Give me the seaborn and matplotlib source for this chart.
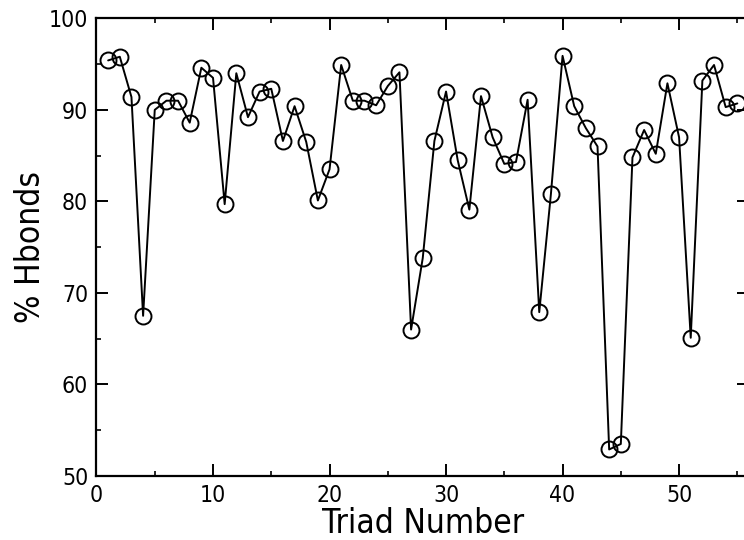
import matplotlib
matplotlib.use("Agg")
import numpy as np
import pandas as pd
import seaborn as sns
import matplotlib.pyplot as plt
from matplotlib.ticker import MultipleLocator

# % Hbonds for each triad
triad = list(range(1, 56))
hbonds = [95.4, 95.8, 91.4, 67.5, 90.0, 91.0, 91.0, 88.6, 94.6, 93.5,
          79.7, 94.0, 89.2, 92.0, 92.3, 86.6, 90.4, 86.5, 80.1, 83.5,
          94.9, 91.0, 91.0, 90.5, 92.6, 94.1, 66.0, 73.8, 86.6, 92.0,
          84.5, 79.1, 91.5, 87.0, 84.1, 84.3, 91.1, 67.9, 80.8, 95.9,
          90.4, 88.0, 86.0, 52.9, 53.5, 84.8, 87.8, 85.2, 92.9, 87.0,
          65.1, 93.2, 94.9, 90.3, 90.7]

df = pd.DataFrame({"Triad Number": triad, "% Hbonds": hbonds})

sns.set_style("ticks")
plt.rcParams['font.family'] = ['DejaVu Sans']
plt.rcParams['font.stretch'] = 'condensed'
plt.rcParams['text.color'] = 'black'
plt.rcParams['axes.labelcolor'] = 'black'

fig = plt.figure(figsize=(7.44, 5.4), dpi=100)
# right spine sits just past the image edge, as in the original
ax = fig.add_axes([0.1297, 0.1185, 0.877, 0.8476])

sns.lineplot(data=df, x="Triad Number", y="% Hbonds", ax=ax,
             color="black", linewidth=1.4, marker="o", markersize=11.5,
             markerfacecolor="none", markeredgecolor="black", markeredgewidth=1.4)

ax.set_xlim(0, 56)
ax.set_ylim(50, 100)
ax.xaxis.set_major_locator(MultipleLocator(10))
ax.xaxis.set_minor_locator(MultipleLocator(5))
ax.yaxis.set_major_locator(MultipleLocator(10))
ax.yaxis.set_minor_locator(MultipleLocator(5))

ax.tick_params(which="both", direction="in", top=True, right=True, colors="black",
               labelsize=16.5, labelcolor="black")
ax.tick_params(which="major", length=8.6, width=1.4, pad=6)
ax.tick_params(which="minor", length=3.8, width=1.2)
for s in ax.spines.values():
    s.set_linewidth(1.6)
    s.set_color("black")

ax.set_xlabel("Triad Number", fontsize=24, labelpad=0, color="black")
ax.set_ylabel("% Hbonds", fontsize=24, labelpad=1, color="black")

fig.savefig("out.png", dpi=100)
